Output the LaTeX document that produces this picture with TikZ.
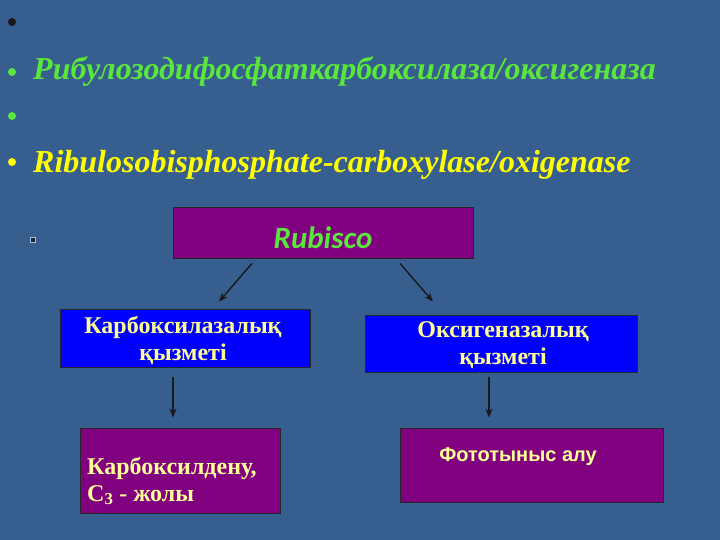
\documentclass[tikz,border=0pt]{standalone}
\usepackage{fontspec}
\setmainfont{Liberation Serif}
\newfontfamily\carfont{Carlito}
\newfontfamily\arsfont{Liberation Sans}
\usetikzlibrary{arrows.meta,calc}
\definecolor{bg}{RGB}{54,94,143}
\definecolor{grn}{RGB}{90,230,60}
\definecolor{yel}{RGB}{255,255,0}
\definecolor{lyel}{RGB}{255,255,150}
\definecolor{purp}{RGB}{128,0,128}
\definecolor{blu}{RGB}{0,0,255}
\begin{document}
\begin{tikzpicture}[x=1pt,y=-1pt,
  box/.style={draw=black!85, line width=0.8pt, inner sep=0pt},
  pbox/.style={box, fill=purp},
  bbox/.style={box, fill=blu},
  boxtxt/.style={text=lyel, font=\fontsize{24}{27}\selectfont\bfseries, inner sep=0pt},
  arr/.style={draw=black!90, line width=1.4pt, -{Stealth[length=9pt,width=7pt]}},
  bigline/.style={anchor=base west, inner sep=0pt, font=\fontsize{32}{34}\selectfont\bfseries\itshape}]
\fill[bg] (0,0) rectangle (720,540);
\useasboundingbox (0,0) rectangle (720,540);
% bullets
\fill[black!90] (12,22) circle (4pt);
\fill[grn] (12,72) circle (4pt);
\fill[grn] (12,116) circle (4pt);
\fill[yel] (12,162) circle (4pt);
\node[bigline, text=grn] (t1) at (33,80) {Рибулозодифосфаткарбоксилаза/оксигеназа};
\node[bigline, text=yel] (t2) at (33,173) {Ribulosobisphosphate-carboxylase/oxigenase};
% small square
\draw[white!60!bg, line width=0.9pt, fill=black!60!bg] (30.5,237.5) rectangle (35.5,242.5);
% boxes
\node[pbox, minimum width=300pt, minimum height=51pt] (rub) at (323,232.5) {};
\node[text=grn, inner sep=0pt, font=\carfont\fontsize{31}{34}\selectfont\bfseries\itshape] at (323,238) {Rubisco};
\node[bbox, minimum width=250pt, minimum height=58pt] (karb) at (185,338) {};
\node[boxtxt, align=center] at (183,340) {Карбоксилазалық\\қызметі};
\node[bbox, minimum width=272pt, minimum height=57pt] (oksi) at (501,343.5) {};
\node[boxtxt, align=center] at (503,345) {Оксигеназалық\\қызметі};
\node[pbox, minimum width=200pt, minimum height=85pt] (kden) at (180,470.5) {};
\node[boxtxt, align=left, anchor=west] at (87,481) {Карбоксилдену,\\С\textsubscript{3} - жолы};
\node[pbox, minimum width=263pt, minimum height=74pt] (foto) at (531.5,465) {};
\node[text=lyel, inner sep=0pt, font=\arsfont\fontsize{20}{22}\selectfont\bfseries] at (518,457) {Фототыныс алу};
% arrows
\draw[arr] ($(rub.south)+(-71,5)$) -- ($(karb.north)+(34,-7)$);
\draw[arr] ($(rub.south)+(77,5)$) -- ($(oksi.north)+(-68,-13)$);
\draw[arr] ($(karb.south)+(-12,10)$) -- ($(kden.north)+(-7,-10)$);
\draw[arr] ($(oksi.south)+(-12,5)$) -- ($(foto.north)+(-42.5,-10)$);
\end{tikzpicture}
\end{document}
